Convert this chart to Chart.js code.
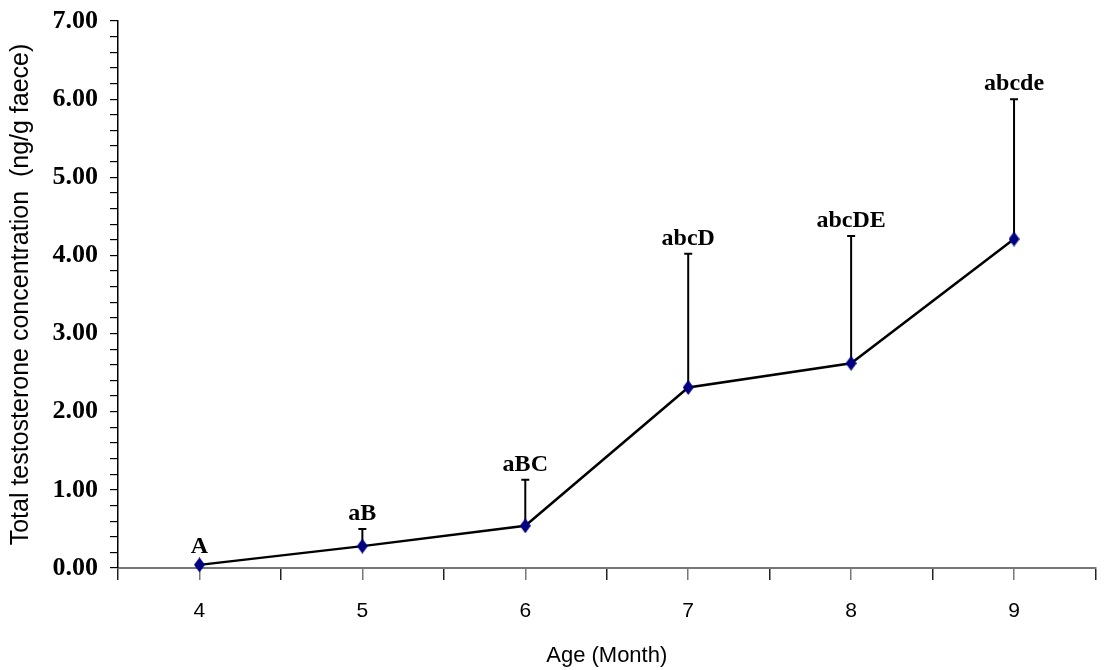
<!DOCTYPE html>
<html lang="en">
<head>
  <meta charset="UTF-8">
  <title>Total testosterone concentration by age</title>
  <script src="https://cdn.jsdelivr.net/npm/chart.js"></script>
  <style>
    body {
      margin: 0;
      background: #fff;
    }
    .wrap {
      width: 1105px;
      height: 670px;
    }
  </style>
</head>
<body>
<div class="wrap">
  <canvas id="testoChart" width="1105" height="670"></canvas>
</div>

<script>
  // ages in months, mean and top of the error bar (mean + SE)
  const ages = [4, 5, 6, 7, 8, 9];
  const means = [0.04, 0.28, 0.54, 2.31, 2.62, 4.21];
  const errorTop = [0.04, 0.50, 1.13, 4.02, 4.25, 6.00];
  const letters = ['A', 'aB', 'aBC', 'abcD', 'abcDE', 'abcde'];

  const points = ages.map((a, i) => ({ x: a, y: means[i] }));

  // tall navy diamond used as point marker
  const diamond = document.createElement('canvas');
  diamond.width = 11;
  diamond.height = 15;
  const dctx = diamond.getContext('2d');
  dctx.fillStyle = '#000080';
  dctx.beginPath();
  dctx.moveTo(5.5, 0);
  dctx.lineTo(11, 7.5);
  dctx.lineTo(5.5, 15);
  dctx.lineTo(0, 7.5);
  dctx.closePath();
  dctx.fill();

  // draws the upward error bars and the significance letters
  const errorBars = {
    id: 'errorBars',
    beforeDatasetsDraw(chart) {
      const { ctx, scales: { x, y } } = chart;
      ctx.save();
      ctx.strokeStyle = '#000';
      ctx.lineWidth = 2;
      ages.forEach((a, i) => {
        if (errorTop[i] <= means[i]) return;
        const px = x.getPixelForValue(a);
        const y0 = y.getPixelForValue(means[i]);
        const y1 = y.getPixelForValue(errorTop[i]);
        ctx.beginPath();
        ctx.moveTo(px, y0);
        ctx.lineTo(px, y1);
        ctx.moveTo(px - 4, y1);
        ctx.lineTo(px + 4, y1);
        ctx.stroke();
      });
      ctx.restore();
    },
    afterDatasetsDraw(chart) {
      const { ctx, scales: { x, y } } = chart;
      ctx.save();
      ctx.fillStyle = '#000';
      ctx.font = 'bold 24px "Liberation Serif", serif';
      ctx.textAlign = 'center';
      ctx.textBaseline = 'alphabetic';
      ages.forEach((a, i) => {
        const px = x.getPixelForValue(a);
        const yTop = y.getPixelForValue(errorTop[i]);
        const yMean = y.getPixelForValue(means[i]);
        const base = Math.min(yTop - 9, yMean - 12);
        ctx.fillText(letters[i], px, base);
      });
      ctx.restore();
    }
  };

  const ctx = document.getElementById('testoChart').getContext('2d');
  const chart = new Chart(ctx, {
    type: 'line',
    data: {
      datasets: [{
        data: points,
        borderColor: '#000',
        borderWidth: 2.5,
        pointStyle: diamond,
        pointRadius: 7,
        tension: 0,
        fill: false,
        clip: false
      }]
    },
    options: {
      responsive: false,
      animation: false,
      layout: {
        padding: { left: 0, right: 3, top: 21, bottom: 0 }
      },
      plugins: {
        legend: { display: false },
        tooltip: { enabled: false }
      },
      scales: {
        x: {
          type: 'linear',
          min: 3.5,
          max: 9.5,
          afterFit(scale) {
            scale.height = 102;
            scale.paddingLeft = 0;
            scale.paddingRight = 0;
          },
          border: { color: '#777', width: 2 },
          grid: {
            drawOnChartArea: false,
            drawTicks: true,
            tickLength: 12,
            lineWidth: 1.5,
            color: (c) => (c.tick && Number.isInteger(c.tick.value)) ? '#777' : '#222'
          },
          ticks: {
            stepSize: 0.5,
            autoSkip: false,
            maxRotation: 0,
            padding: 19,
            color: '#000',
            font: { family: '"Liberation Sans", Arial, sans-serif', size: 21 },
            callback: (v) => Number.isInteger(v) ? String(v) : ''
          },
          title: {
            display: true,
            text: 'Age (Month)',
            color: '#000',
            padding: { top: 0, bottom: 1 },
            font: { family: '"Liberation Sans", Arial, sans-serif', size: 22 }
          }
        },
        y: {
          min: 0,
          max: 7,
          afterFit(scale) {
            scale.width = 118;
            scale.paddingTop = 0;
            scale.paddingBottom = 0;
          },
          border: { color: '#000', width: 1.5 },
          grid: {
            drawOnChartArea: false,
            drawTicks: true,
            tickLength: 8,
            color: '#000',
            lineWidth: 1.2
          },
          ticks: {
            stepSize: 0.2,
            autoSkip: false,
            padding: 12,
            color: '#000',
            font: { family: '"Liberation Serif", serif', size: 26, weight: 'bold' },
            callback: (v) => Math.abs(v - Math.round(v)) < 1e-6 ? Math.round(v).toFixed(2) : ''
          },
          title: {
            display: true,
            text: 'Total testosterone concentration  (ng/g faece)',
            color: '#000',
            padding: { top: 6, bottom: 0 },
            font: { family: '"Liberation Sans", Arial, sans-serif', size: 25 }
          }
        }
      }
    },
    plugins: [errorBars]
  });
</script>
</body>
</html>
